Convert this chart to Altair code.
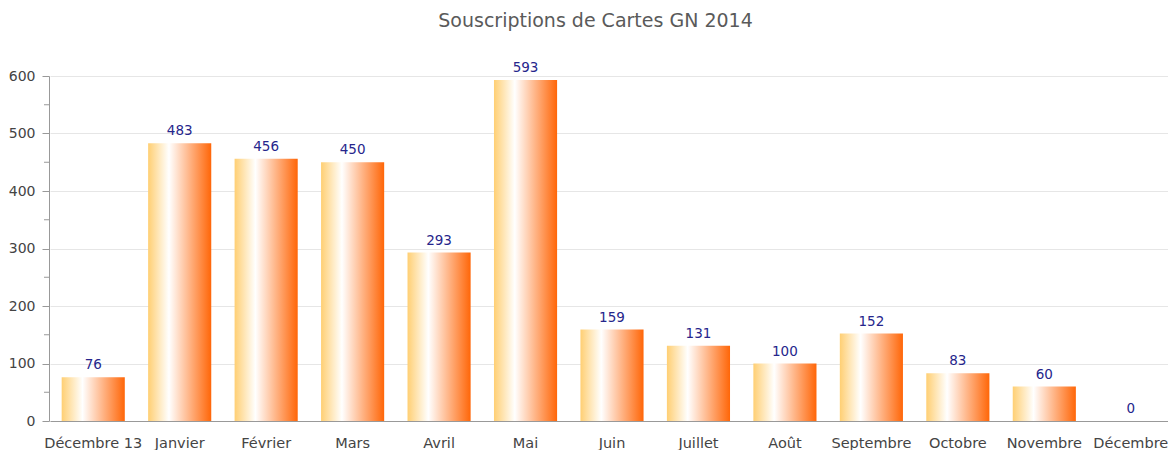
import altair as alt
import pandas as pd

months = ["Décembre 13", "Janvier", "Février", "Mars", "Avril", "Mai", "Juin",
          "Juillet", "Août", "Septembre", "Octobre", "Novembre", "Décembre"]
values = [76, 483, 456, 450, 293, 593, 159, 131, 100, 152, 83, 60, 0]
minor_ticks = [50, 150, 250, 350, 450, 550]

df = pd.DataFrame({"mois": months, "valeur": values})
minor_df = pd.DataFrame({"t": minor_ticks})

FONT = "DejaVu Sans"

grad = alt.Gradient(
    gradient="linear",
    stops=[
        alt.GradientStop(color="#ffcf73", offset=0),
        alt.GradientStop(color="#ffffff", offset=0.33),
        alt.GradientStop(color="#ffb384", offset=0.66),
        alt.GradientStop(color="#ff6608", offset=1),
    ],
    x1=0, x2=1, y1=0, y2=0,
)

xscale = alt.Scale(domain=months, range=[1, 1125], paddingInner=0.27, paddingOuter=0.135)
yscale = alt.Scale(domain=[0, 600], nice=False)

base = alt.Chart(df).encode(
    x=alt.X("mois:N", sort=months, scale=xscale,
            axis=alt.Axis(title=None, labelAngle=0, ticks=False, labelPadding=15,
                          labelFont=FONT, labelFontSize=14.5, labelColor="#444",
                          domainColor="#999", grid=False, labelOverlap=False,
                          labelBound=False, labelFlush=False)),
    y=alt.Y("valeur:Q", scale=yscale,
            axis=alt.Axis(title=None, values=[0, 100, 200, 300, 400, 500, 600],
                          tickSize=7, tickColor="#999", domainColor="#999",
                          labelPadding=7, labelFont=FONT, labelFontSize=14,
                          labelColor="#444", gridColor="#e6e6e6", grid=True)),
)

bars = base.mark_bar(color=grad)
labels = base.mark_text(baseline="alphabetic", dy=-8, font=FONT, fontSize=13.5,
                        color="#26268c").encode(text="valeur:Q")

minor = alt.Chart(minor_df).mark_rule(color="#999").encode(
    y=alt.Y("t:Q", scale=yscale),
    x=alt.value(-5), x2=alt.value(0),
)

chart = alt.layer(bars, labels, minor).properties(
    width=1119, height=345,
    autosize=alt.AutoSizeParams(type="none"),
    padding={"left": 49, "top": 76, "right": 0, "bottom": 29},
    title=alt.TitleParams("Souscriptions de Cartes GN 2014", font=FONT, fontSize=19,
                          fontWeight="normal", color="#5a5a5a", anchor="middle",
                          dx=-13, offset=15, baseline="alphabetic"),
).configure_view(stroke=None)

chart.save("out.html", embed_options={"renderer": "svg", "actions": False})
